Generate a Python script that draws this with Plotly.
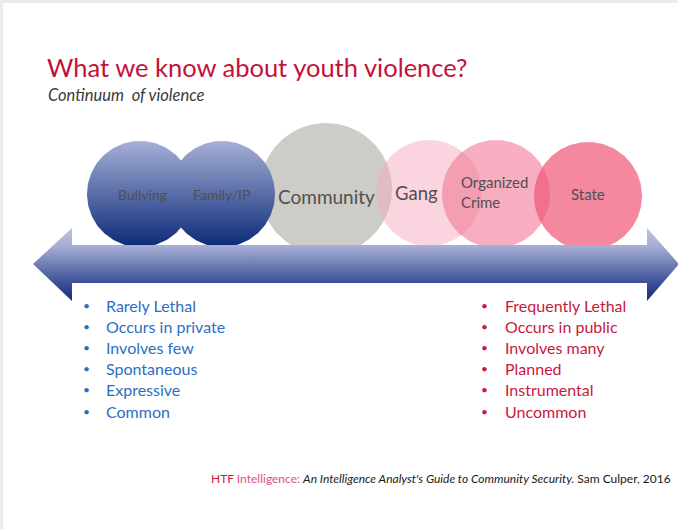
import numpy as np
import plotly.graph_objects as go

# ---------------- data ----------------
categories = ["Community", "Bullying", "Family/IP", "Gang", "Organized<br>Crime", "State"]
continuum_pos = [326, 140, 222, 429, 496, 588]      # position along the continuum
circle_level = [189, 194, 194, 193, 194, 196]
circle_radius = [66, 53, 53, 53, 54, 54]

left_traits = ["Rarely Lethal", "Occurs in private", "Involves few",
               "Spontaneous", "Expressive", "Common"]
right_traits = ["Frequently Lethal", "Occurs in public", "Involves many",
                "Planned", "Instrumental", "Uncommon"]

title_text = "What we know about youth violence?"
subtitle_text = "Continuum&nbsp;&nbsp;of violence"

# ---------------- styles ----------------
W, H = 678, 529
FONT = "Lato"
circle_fills = {
    "Community": dict(color="#cdccc6"),
    "Bullying": dict(grad=[[0, "#a6afd6"], [1, "#0b2a78"]]),
    "Family/IP": dict(grad=[[0, "#a6afd6"], [1, "#0b2a78"]]),
    "Gang": dict(color="rgba(245,170,190,0.5)"),
    "Organized<br>Crime": dict(color="rgba(240,120,150,0.6)"),
    "State": dict(color="rgba(238,90,120,0.72)"),
}
label_style = {
    "Community": dict(size=19, dx=0, dy=7, anchor="center"),
    "Bullying": dict(size=14, dx=2, dy=0, anchor="center"),
    "Family/IP": dict(size=14, dx=-1, dy=0, anchor="center"),
    "Gang": dict(size=18.5, dx=-13, dy=0, anchor="center"),
    "Organized<br>Crime": dict(size=15, dx=-37, dy=-2, anchor="left"),
    "State": dict(size=15, dx=0, dy=-2, anchor="center"),
}

fig = go.Figure()
theta = np.linspace(0, 2 * np.pi, 181)

for cat, cx, cy, r in zip(categories, continuum_pos, circle_level, circle_radius):
    xs = cx + r * np.cos(theta)
    ys = cy + r * np.sin(theta)
    st = circle_fills[cat]
    kw = dict(x=xs, y=ys, mode="lines", fill="toself", line=dict(width=0),
              hoverinfo="skip", showlegend=False)
    if "grad" in st:
        kw["fillgradient"] = dict(type="vertical", colorscale=st["grad"],
                                  start=cy - r, stop=cy + r)
        kw["fillcolor"] = "#5a6aa8"
    else:
        kw["fillcolor"] = st["color"]
    fig.add_trace(go.Scatter(**kw))

# double-headed arrow (continuum axis)
tipL, baseL, baseR, tipR = 33, 72, 647, 679
headTop, bodyTop, bodyBot, headBot = 228, 245, 283, 301
mid = (bodyTop + bodyBot) / 2
ax = [tipL, baseL, baseL, baseR, baseR, tipR, baseR, baseR, baseL, baseL, tipL]
ay = [mid, headTop, bodyTop, bodyTop, headTop, mid, headBot, bodyBot, bodyBot, headBot, mid]
fig.add_trace(go.Scatter(
    x=ax, y=ay, mode="lines", fill="toself", line=dict(width=0),
    fillcolor="#6070a8",
    fillgradient=dict(type="vertical", start=headTop, stop=headBot,
                      colorscale=[[0, "#bcc2df"], [0.25, "#a6aed4"],
                                  [0.72, "#42559b"], [1, "#13297a"]]),
    hoverinfo="skip", showlegend=False))

annotations = []
for cat, cx, cy in zip(categories, continuum_pos, circle_level):
    ls = label_style[cat]
    annotations.append(dict(
        x=cx + ls["dx"], y=cy + ls["dy"],
        text=cat, showarrow=False, xanchor=ls["anchor"], yanchor="middle",
        align="left", font=dict(family=FONT, size=ls["size"], color="#505050")))

# bullet lists
for i, (lt, rt) in enumerate(zip(left_traits, right_traits)):
    y = 305 + i * 21.2
    annotations.append(dict(x=86, y=y, text="•", showarrow=False, xanchor="center",
                            yanchor="middle", font=dict(family=FONT, size=12, color="#2a6fc4")))
    annotations.append(dict(x=104, y=y, text=lt, showarrow=False, xanchor="left",
                            yanchor="middle", font=dict(family=FONT, size=16, color="#2a6fc4")))
    annotations.append(dict(x=484, y=y, text="•", showarrow=False, xanchor="center",
                            yanchor="middle", font=dict(family=FONT, size=12, color="#c8183f")))
    annotations.append(dict(x=503, y=y, text=rt, showarrow=False, xanchor="left",
                            yanchor="middle", font=dict(family=FONT, size=16, color="#c8183f")))

# title & subtitle
annotations.append(dict(x=45, y=67, text=title_text, showarrow=False, xanchor="left",
                        yanchor="middle", font=dict(family=FONT, size=25.5, color="#c4123a")))
annotations.append(dict(x=46, y=95, text="<i>" + subtitle_text + "</i>", showarrow=False,
                        xanchor="left", yanchor="middle",
                        font=dict(family=FONT, size=16.5, color="#3a3a3a")))

# citation
citation = ("<span style='color:#d0143c'>HTF </span>"
            "<span style='color:#e0507a'>Intelligence:</span> "
            "<i>An Intelligence Analyst's Guide to Community Security.</i> "
            "Sam Culper, 2016")
annotations.append(dict(x=673, y=478, text=citation, showarrow=False, xanchor="right",
                        yanchor="middle", font=dict(family=FONT, size=12, color="#1a1a1a")))

shapes = [
    dict(type="rect", xref="paper", yref="paper", x0=0, x1=1, y0=1 - 3 / H, y1=1,
         fillcolor="#ececec", line=dict(width=0), layer="below"),
    dict(type="rect", xref="paper", yref="paper", x0=0, x1=3 / W, y0=0, y1=1,
         fillcolor="#ececec", line=dict(width=0), layer="below"),
]

fig.update_layout(
    width=W, height=H, margin=dict(l=0, r=0, t=0, b=0),
    paper_bgcolor="white", plot_bgcolor="white",
    xaxis=dict(range=[0, W], visible=False, fixedrange=True),
    yaxis=dict(range=[H, 0], visible=False, fixedrange=True),
    annotations=annotations, shapes=shapes, showlegend=False,
)
fig.write_html("out.html", config={"displayModeBar": False},
               post_script="document.body.style.margin='0';document.body.style.overflow='hidden';")
